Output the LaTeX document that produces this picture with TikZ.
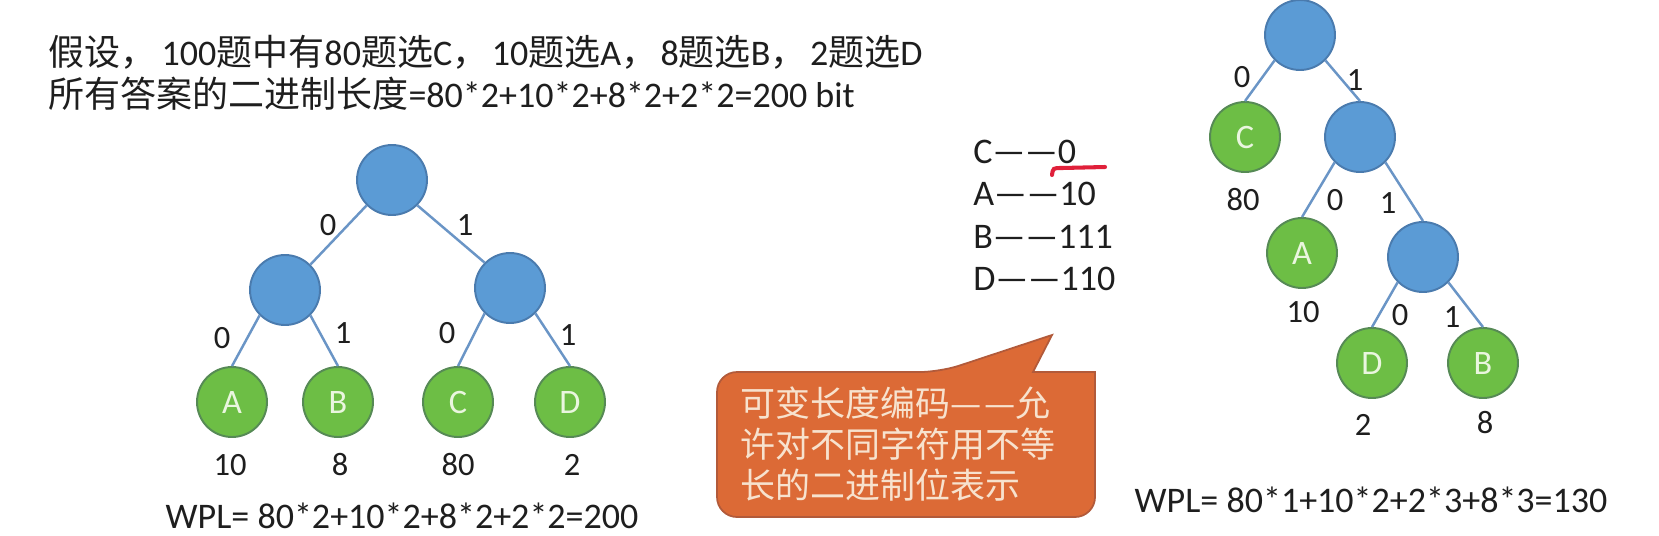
\documentclass[tikz,border=0pt]{standalone}
\usepackage{fontspec}
\setmainfont{Carlito}
\newfontfamily\cjk{Noto Sans CJK SC}
\definecolor{innerfill}{HTML}{5B9BD5}
\definecolor{innerline}{HTML}{4A7BAE}
\definecolor{leaffill}{HTML}{6DBE45}
\definecolor{leafline}{HTML}{568A55}
\definecolor{leaftext}{HTML}{EAF6DF}
\definecolor{edgecol}{HTML}{6A95C6}
\definecolor{notefill}{HTML}{DC6A36}
\definecolor{noteline}{HTML}{B25A3A}
\definecolor{notetext}{HTML}{F7E2CE}
\definecolor{redpen}{HTML}{E0203A}
\definecolor{ink}{HTML}{1E1E1E}

\begin{document}
\begin{tikzpicture}[x=0.02cm,y=-0.02cm,
    inner/.style={circle,draw=innerline,fill=innerfill,line width=1.1pt,
      minimum size=1.4cm,inner sep=0pt},
    leaf/.style={circle,draw=leafline,fill=leaffill,line width=1.1pt,
      minimum size=1.4cm,inner sep=0pt,text=leaftext,
      font=\fontsize{19.5}{22}\selectfont},
    edge/.style={draw=edgecol,line width=1.4pt},
    lbl/.style={text=ink,inner sep=0pt,font=\fontsize{18.5}{22}\selectfont},
    big/.style={text=ink,inner sep=0pt,font=\fontsize{20.5}{25.6}\selectfont} ]
  \useasboundingbox[fill=white] (0,0) rectangle (1659,535);
  % question text
  \node[big,anchor=base west] (line1) at (48,65) {{\cjk 假设，}\hspace{3pt}100{\cjk 题中有}80{\cjk 题选}C{\cjk ，}\hspace{2pt}10{\cjk 题选}A{\cjk ，}\hspace{2pt}8{\cjk 题选}B{\cjk ，}\hspace{2pt}2{\cjk 题选}D};
  \node[big,anchor=base west] (line2) at (48,107) {{\cjk 所有答案的二进制长度}=80*2+10*2+8*2+2*2=200 bit};
  % fixed length tree
  \node[inner] (r1) at (392,180) {};
  \node[inner] (n1) at (285,290) {};
  \node[inner] (n2) at (510,288) {};
  \node[leaf] (A1) at (232,402) {A};
  \node[leaf] (B1) at (338,402) {B};
  \node[leaf] (C1) at (458,402) {C};
  \node[leaf] (D1) at (570,402) {D};
  \draw[edge] (r1.south west) -- (n1.north east);
  \draw[edge] (r1.south east) -- (n2.north west);
  \draw[edge] (n1.south west) -- (A1.north);
  \draw[edge] (n1.south east) -- (B1.north);
  \draw[edge] (n2.south west) -- (C1.north);
  \draw[edge] (n2.south east) -- (D1.north);
  \node[lbl] (b11) at (328,225) {0};
  \node[lbl] (b12) at (465,225) {1};
  \node[lbl] (b13) at (222,338) {0};
  \node[lbl] (b14) at (343,333) {1};
  \node[lbl] (b15) at (447,333) {0};
  \node[lbl] (b16) at (568,335) {1};
  \node[lbl] (w11) at (230,465) {10};
  \node[lbl] (w12) at (340,465) {8};
  \node[lbl] (w13) at (458,465) {80};
  \node[lbl] (w14) at (572,465) {2};
  \node[big] (wpl1) at (402,516) {WPL= 80*2+10*2+8*2+2*2=200};
  % codes
  \node[big,anchor=west] (codeC) at (973,152) {C——0};
  \node[big,anchor=west] (codeA) at (973,194) {A——10};
  \node[big,anchor=west] (codeB) at (973,237) {B——111};
  \node[big,anchor=west] (codeD) at (973,279) {D——110};
  \draw[redpen,line width=2.3pt,line cap=round]
    (1052,175) .. controls (1053,168) .. (1062,168) -- (1105,167);
  % callout
  \filldraw[fill=notefill,draw=noteline,line width=1pt]
    (717,440) [rounded corners=0.4cm] -- (717,372) -- (940,372)
    [sharp corners] -- (1052,335) -- (1033,372) -- (1095,372)
    [rounded corners=0.4cm] -- (1095,517) -- (717,517) -- cycle;
  \node[anchor=west,align=left,text=notetext,inner sep=0pt,
    font=\cjk\fontsize{19.9}{23.3}\selectfont] (note) at (740,444)
    {可变长度编码—\hspace{1.5pt}—允\\许对不同字符用不等\\长的二进制位表示};
  % variable length tree
  \node[inner] (r2) at (1300,35) {};
  \node[leaf] (C2) at (1245,137) {C};
  \node[inner] (m1) at (1360,137) {};
  \node[leaf] (A2) at (1302,253) {A};
  \node[inner] (m2) at (1423,257) {};
  \node[leaf] (D2) at (1372,363) {D};
  \node[leaf] (B2) at (1483,363) {B};
  \draw[edge] (r2.south west) -- (C2.north);
  \draw[edge] (r2.south east) -- (m1.north);
  \draw[edge] (m1.south west) -- (A2.north);
  \draw[edge] (m1.south east) -- (m2.north);
  \draw[edge] (m2.south west) -- (D2.north);
  \draw[edge] (m2.south east) -- (B2.north);
  \node[lbl] (b21) at (1242,77) {0};
  \node[lbl] (b22) at (1355,80) {1};
  \node[lbl] (w21) at (1243,200) {80};
  \node[lbl] (b23) at (1335,200) {0};
  \node[lbl] (b24) at (1388,203) {1};
  \node[lbl] (w22) at (1303,312) {10};
  \node[lbl] (b25) at (1400,315) {0};
  \node[lbl] (b26) at (1452,317) {1};
  \node[lbl] (w23) at (1363,425) {2};
  \node[lbl] (w24) at (1485,423) {8};
  \node[big] (wpl2) at (1371,500) {WPL= 80*1+10*2+2*3+8*3=130};
\end{tikzpicture}
\end{document}
